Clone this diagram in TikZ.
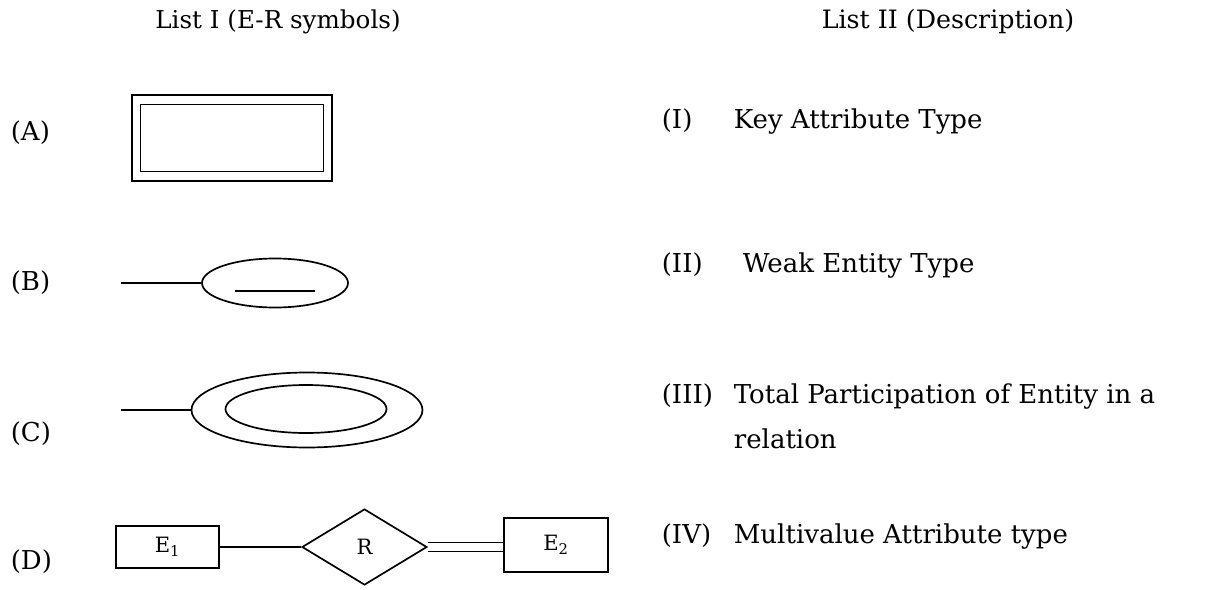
\documentclass[tikz,border=0pt]{standalone}
\usepackage{fontspec}
\setmainfont{DejaVu Serif}
\usetikzlibrary{shapes.geometric}

\begin{document}
\begin{tikzpicture}[x=0.25mm, y=-0.25mm, line width=1.2pt,
    every node/.style={font=\fontsize{18.5}{32}\selectfont},
    lbl/.style={anchor=base west, inner sep=0pt},
    box/.style={shape=rectangle, draw, inner sep=0pt},
    oval/.style={shape=ellipse, draw, inner sep=0pt},
    small/.style={font=\fontsize{15}{16}\selectfont}]
    \useasboundingbox (0, 0) rectangle (1205, 590);
    \node[font=\fontsize{17.5}{20}\selectfont] at (278, 22) (head1) {List I (E-R symbols)};
    \node[font=\fontsize{18}{20}\selectfont] at (948, 22) (head2) {List II (Description)};

    \node[lbl] at (10, 140) (symA) {(A)};
    \node[box, minimum width=50mm, minimum height=21.5mm] at (232, 138) (wkout) {};
    \node[box, minimum width=45.75mm, minimum height=16.75mm] at (wkout) (wkin) {};

    \node[lbl] at (10, 290) (symB) {(B)};
    \coordinate (keyend) at (121, 283);
    \node[oval, minimum width=36.5mm, minimum height=12.25mm] at (275, 283) (keyatt) {};
    \draw (keyend) -- (keyatt.west);
    \draw ([shift={(-40, 8)}]keyatt.center) -- ([shift={(40, 8)}]keyatt.center);

    \node[lbl] at (10, 441) (symC) {(C)};
    \coordinate (multend) at (121, 410);
    \node[oval, minimum width=57.75mm, minimum height=18.75mm] at (307, 410) (multout) {};
    \node[oval, minimum width=40.25mm, minimum height=12mm] at (306, 409) (multin) {};
    \draw (multend) -- (multout.west);

    \node[lbl] at (10, 569) (symD) {(D)};
    \node[box, small, minimum width=25.75mm, minimum height=10.5mm] at (167.5, 547) (ent1) {E\textsubscript{1}};
    \node[shape=diamond, draw, small, inner sep=0pt, minimum width=31.25mm, minimum height=19mm] at (364.5, 547) (rel) {R};
    \node[box, small, minimum width=26mm, minimum height=13.5mm] at (556, 545) (ent2) {E\textsubscript{2}};
    \draw (ent1.east) -- (rel.west);
    \draw[double, double distance=1.8mm] (rel.east) -- (rel.east -| ent2.west);

    \node[lbl] at (661, 128) (num1) {(I)};
    \node[lbl] at (733, 128) (desc1) {Key Attribute Type};
    \node[lbl] at (661, 272) (num2) {(II)};
    \node[lbl] at (742, 272) (desc2) {Weak Entity Type};
    \node[lbl] at (661, 403) (num3) {(III)};
    \node[lbl, align=left] at (733, 448) (desc3) {Total Participation of Entity in a\\relation};
    \node[lbl] at (661, 543) (num4) {(IV)};
    \node[lbl] at (733, 543) (desc4) {Multivalue Attribute type};
\end{tikzpicture}
\end{document}
